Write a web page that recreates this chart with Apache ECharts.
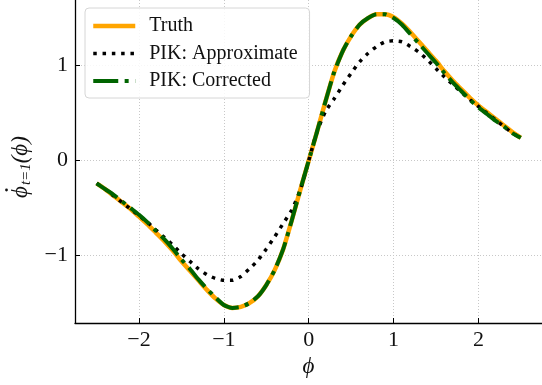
<!DOCTYPE html>
<html>
<head>
<meta charset="utf-8">
<script src="https://cdn.jsdelivr.net/npm/echarts@6/dist/echarts.min.js"></script>
<style>
  html, body { margin: 0; padding: 0; background: #fff; }
  #chart { width: 542px; height: 385px; }
</style>
</head>
<body>
<div id="chart"></div>
<script>
// phi values (shared by all three curves)
const phi = [
  -2.5, -2.4, -2.3, -2.2, -2.1, -2.0, -1.9, -1.8, -1.7, -1.6, -1.5, -1.4, -1.3,
  -1.2, -1.1, -1.0, -0.9, -0.8, -0.7, -0.6, -0.5, -0.4, -0.3, -0.2, -0.1, 0,
  0.1, 0.2, 0.3, 0.4, 0.5, 0.6, 0.7, 0.8, 0.9, 1.0, 1.1, 1.2, 1.3,
  1.4, 1.5, 1.6, 1.7, 1.8, 1.9, 2.0, 2.1, 2.2, 2.3, 2.4, 2.5
]
const truth = [
  -0.24, -0.30, -0.37, -0.44, -0.51, -0.59, -0.67, -0.76, -0.85, -0.95, -1.06, -1.16, -1.26,
  -1.36, -1.45, -1.52, -1.55, -1.54, -1.50, -1.43, -1.31, -1.15, -0.93, -0.63, -0.31, 0,
  0.31, 0.63, 0.93, 1.15, 1.31, 1.43, 1.50, 1.54, 1.54, 1.51, 1.44, 1.35, 1.25,
  1.15, 1.05, 0.94, 0.84, 0.75, 0.66, 0.58, 0.51, 0.44, 0.37, 0.30, 0.24
]
const approx = [
  -0.24, -0.30, -0.37, -0.44, -0.51, -0.58, -0.65, -0.73, -0.81, -0.89, -0.98, -1.06, -1.14,
  -1.20, -1.24, -1.26, -1.26, -1.22, -1.14, -1.05, -0.93, -0.80, -0.66, -0.52, -0.31, 0,
  0.31, 0.52, 0.65, 0.79, 0.92, 1.04, 1.13, 1.20, 1.25, 1.26, 1.25, 1.20, 1.14,
  1.06, 0.97, 0.88, 0.80, 0.72, 0.64, 0.57, 0.50, 0.43, 0.36, 0.29, 0.24
]
const corrected = [
  -0.24, -0.30, -0.36, -0.43, -0.50, -0.57, -0.65, -0.74, -0.83, -0.93, -1.04, -1.14, -1.25,
  -1.35, -1.44, -1.52, -1.55, -1.54, -1.50, -1.43, -1.31, -1.15, -0.93, -0.63, -0.31, 0,
  0.31, 0.63, 0.93, 1.15, 1.31, 1.43, 1.50, 1.54, 1.54, 1.50, 1.43, 1.33, 1.23,
  1.13, 1.03, 0.92, 0.82, 0.73, 0.64, 0.56, 0.49, 0.42, 0.36, 0.29, 0.24
]
const seriesNames = ['Truth', 'PIK: Approximate', 'PIK: Corrected']

const serif = 'Liberation Serif, DejaVu Serif, serif'
const pairs = (ys) => phi.map((x, i) => [x, ys[i]])
const tickFmt = (v) => (Number.isInteger(v) ? String(v).replace('-', '\u2212') : '')
const noMarker = { color: 'rgba(0,0,0,0)' }

const styles = [
  { color: '#ffa500', width: 4.5, type: 'solid' },
  { color: '#000', width: 3.5, type: [3.5, 5.8], cap: 'butt' },
  { color: '#006400', width: 4, type: [25, 6.4, 4, 6.4], cap: 'butt' },
]

const chart = echarts.init(document.getElementById('chart'), null, { renderer: 'canvas' })

const axisCommon = {
  type: 'value',
  axisLine: { show: true, onZero: false, lineStyle: { color: '#000', width: 1.3 } },
  axisTick: { show: true, inside: true, length: 5, lineStyle: { color: '#000', width: 1 } },
  axisLabel: { color: '#111', fontFamily: serif, fontSize: 22, formatter: tickFmt,
    showMinLabel: false, showMaxLabel: false },
  splitLine: { show: true, showMinLine: false, showMaxLine: false,
    lineStyle: { color: '#c8c8c8', type: [1, 2], width: 1 } },
}

const option = {
  animation: false,
  backgroundColor: '#fff',
  grid: { left: 75, right: -3, top: 0, bottom: 62, containLabel: false },
  xAxis: {
    ...axisCommon,
    min: -2.755, max: 2.75, splitNumber: 5,
    axisLabel: { ...axisCommon.axisLabel, margin: 6 },
    name: '\u03d5', nameLocation: 'middle', nameGap: 27,
    nameTextStyle: { fontFamily: serif, fontStyle: 'italic', fontSize: 23, color: '#111' },
  },
  yAxis: {
    ...axisCommon,
    min: -1.709, max: 1.69, splitNumber: 3,
    axisLabel: { ...axisCommon.axisLabel, margin: 7 },
  },
  // y axis title: phi-dot_{t=1}(phi), rotated
  graphic: [
    {
      type: 'group', x: 21, y: 159, rotation: Math.PI / 2,
      children: [
        {
          type: 'text', x: -39, y: 0,
          style: {
            text: '{a|\u03d5}{s|t=1}{a|(\u03d5)}',
            align: 'left', verticalAlign: 'middle', fill: '#111',
            rich: {
              a: { fontFamily: serif, fontSize: 23, fontStyle: 'italic', fill: '#111' },
              s: { fontFamily: serif, fontSize: 15, fontStyle: 'italic', fill: '#111',
                verticalAlign: 'bottom', padding: [10, 0, 0, 1] },
            },
          },
        },
        { type: 'circle', shape: { cx: -31, cy: -14.5, r: 1.4 }, style: { fill: '#111' } },
      ],
    },
  ],
  legend: {
    orient: 'vertical',
    left: 85, top: 8,
    padding: [8, 12, 7, 6],
    itemWidth: 42, itemHeight: 14, itemGap: 7.5,
    backgroundColor: 'rgba(255,255,255,0.85)',
    borderColor: '#d6d6d6', borderWidth: 1, borderRadius: 4,
    textStyle: { fontFamily: serif, fontSize: 20, color: '#111', padding: [0, 0, 0, 9] },
    data: seriesNames.map((name, i) => ({ name, lineStyle: { ...styles[i] }, itemStyle: noMarker })),
  },
  series: seriesNames.map((name, i) => ({
    name, type: 'line', data: pairs([truth, approx, corrected][i]),
    symbol: 'none', smooth: 0.2,
    lineStyle: styles[i],
    itemStyle: noMarker,
  })),
}

chart.setOption(option)
</script>
</body>
</html>
